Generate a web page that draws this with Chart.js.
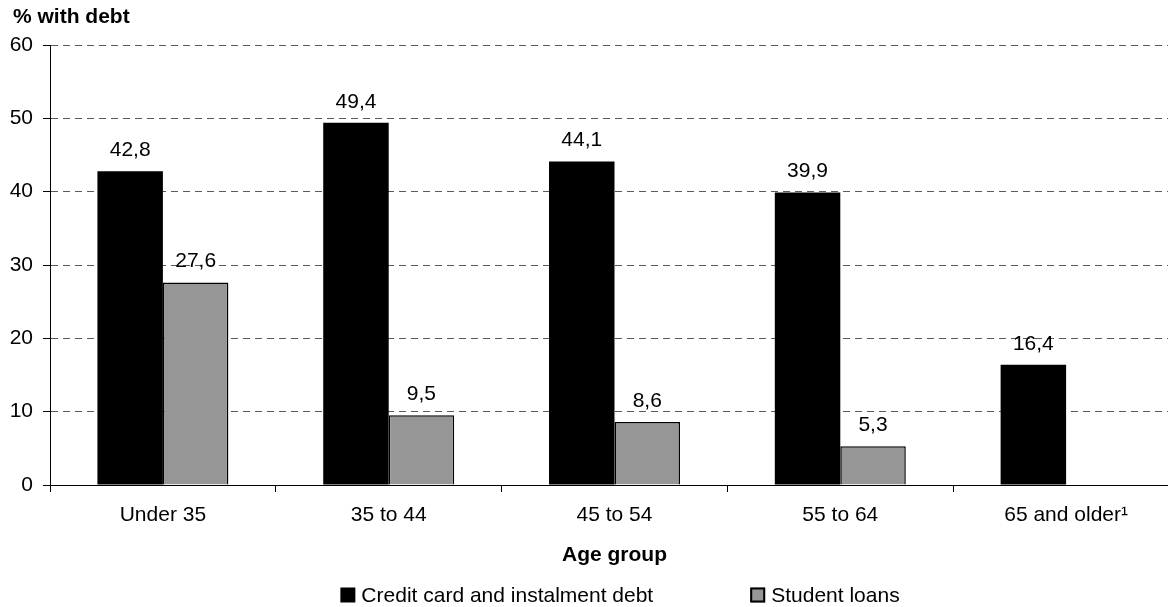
<!DOCTYPE html>
<html>
<head>
<meta charset="utf-8">
<script src="https://cdn.jsdelivr.net/npm/chart.js@4"></script>
<style>
  html, body { margin: 0; padding: 0; background: #fff; overflow: hidden; }
  #wrap { width: 1244px; height: 607px; }
</style>
</head>
<body>
<div id="wrap"><canvas id="chart" width="1244" height="607"></canvas></div>
<script>
// Share of families holding each kind of debt, by age of the major income earner
const ageGroups = ['Under 35', '35 to 44', '45 to 54', '55 to 64', '65 and older\u00B9'];
const creditCardDebt = [42.8, 49.4, 44.1, 39.9, 16.4];
const studentLoans = [27.6, 9.5, 8.6, 5.3, null];
const yTicks = [0, 10, 20, 30, 40, 50, 60];
const seriesNames = ['Credit card and instalment debt', 'Student loans'];

const FONT = '"Liberation Sans", Arial, Helvetica, sans-serif';

const fmt = v => v.toFixed(1).replace('.', ',');

// Values printed above each bar
const valueLabels = {
  id: 'valueLabels',
  afterDatasetsDraw(chart) {
    const ctx = chart.ctx;
    ctx.save();
    ctx.font = '21px ' + FONT;
    ctx.fillStyle = '#000';
    ctx.textAlign = 'center';
    ctx.textBaseline = 'middle';
    chart.data.datasets.forEach((ds, di) => {
      const meta = chart.getDatasetMeta(di);
      meta.data.forEach((bar, i) => {
        const v = ds.data[i];
        if (v === null || v === undefined) return;
        ctx.fillText(fmt(v), bar.x, bar.y - 21);
      });
    });
    ctx.restore();
  }
};

// Keep the chart title in line with the y tick labels
const titleIndent = {
  id: 'titleIndent',
  beforeDraw(chart) {
    if (chart.titleBlock) {
      chart.titleBlock.left = 13;
    }
  }
};

// Legend row under the axis title
const bottomLegend = {
  id: 'bottomLegend',
  afterDraw(chart) {
    const ctx = chart.ctx;
    const ds = chart.data.datasets;
    const box = 15, textGap = 6, itemGap = 97;
    ctx.save();
    ctx.font = '21px ' + FONT;
    const widths = ds.map(d => box + textGap + ctx.measureText(d.label).width);
    const total = widths.reduce((a, b) => a + b, 0) + itemGap * (ds.length - 1);
    let x = chart.width / 2 - total / 2 - 2;
    const cy = 595;
    ds.forEach((d, i) => {
      ctx.fillStyle = d.backgroundColor;
      ctx.fillRect(x, cy - box / 2, box, box);
      if (d.borderWidth) {
        ctx.lineWidth = 2;
        ctx.strokeStyle = d.borderColor;
        ctx.strokeRect(x + 1, cy - box / 2 + 1, box - 2, box - 2);
      }
      ctx.fillStyle = '#000';
      ctx.textAlign = 'left';
      ctx.textBaseline = 'middle';
      ctx.fillText(d.label, x + box + textGap, cy + 1);
      x += widths[i] + itemGap;
    });
    ctx.restore();
  }
};

new Chart(document.getElementById('chart'), {
  type: 'bar',
  data: {
    labels: ageGroups,
    datasets: [
      {
        label: seriesNames[0],
        data: creditCardDebt,
        backgroundColor: '#000000',
        borderWidth: 0
      },
      {
        label: seriesNames[1],
        data: studentLoans,
        backgroundColor: '#969696',
        borderColor: '#000000',
        borderWidth: 1.5
      }
    ]
  },
  options: {
    responsive: false,
    animation: false,
    devicePixelRatio: 1,
    layout: { padding: { left: 4, right: 65, top: 0, bottom: 39.4 } },
    datasets: { bar: { categoryPercentage: 0.58, barPercentage: 1.0 } },
    plugins: {
      legend: { display: false },
      tooltip: { enabled: false },
      title: {
        display: true,
        text: '% with debt',
        align: 'start',
        color: '#000',
        font: { family: FONT, size: 21, weight: 'bold' },
        padding: { top: 5, bottom: 14.8 }
      }
    },
    scales: {
      x: {
        grid: {
          drawOnChartArea: false,
          drawTicks: true,
          tickLength: 7,
          tickColor: '#000',
          tickWidth: 1
        },
        border: { display: true, color: '#000', width: 1 },
        ticks: {
          color: '#000',
          font: { family: FONT, size: 21 },
          padding: 11,
          maxRotation: 0,
          autoSkip: false
        },
        title: {
          display: true,
          text: 'Age group',
          color: '#000',
          font: { family: FONT, size: 21, weight: 'bold' },
          padding: { top: 0, bottom: 0 }
        },
        afterFit(scale) { scale.height = 82.6; }
      },
      y: {
        min: yTicks[0],
        max: yTicks[yTicks.length - 1],
        afterBuildTicks(scale) { scale.ticks = yTicks.map(v => ({ value: v })); },
        grid: {
          color: '#5a5a5a',
          lineWidth: 1,
          drawTicks: true,
          tickLength: 7,
          tickColor: '#000',
          tickBorderDash: [],
          tickWidth: 1
        },
        border: { display: true, color: '#000', width: 1, dash: [7, 5] },
        ticks: {
          color: '#000',
          font: { family: FONT, size: 21 },
          padding: 10
        },
        afterFit(scale) { scale.width = 46; }
      }
    }
  },
  plugins: [valueLabels, titleIndent, bottomLegend]
});
</script>
</body>
</html>
